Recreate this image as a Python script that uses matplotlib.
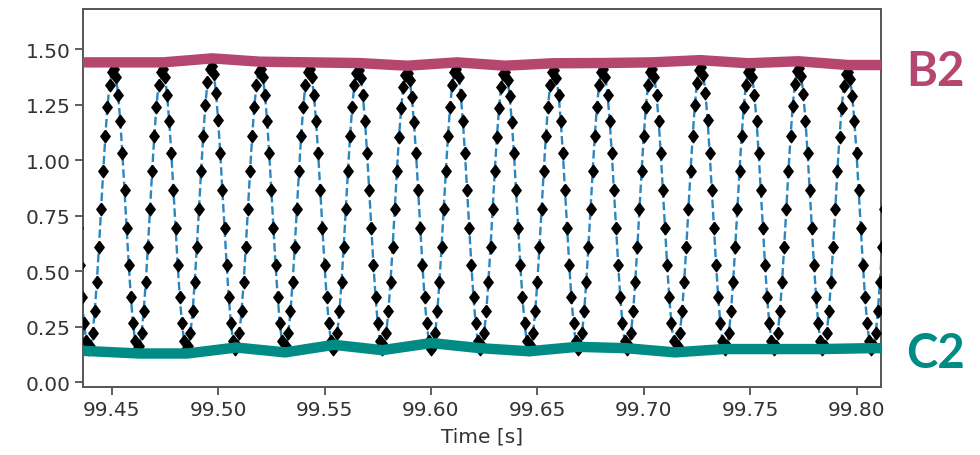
import numpy as np
import matplotlib
matplotlib.use("Agg")
import matplotlib.pyplot as plt

t0 = 99.434
fs = 1000.0
signal = [
    0.693, 0.528, 0.382, 0.265, 0.186, 0.151,
    0.163, 0.221, 0.320, 0.453, 0.611, 0.781, 0.951, 1.108, 1.241, 1.340, 1.397, 1.408, 1.373, 1.294, 1.177, 1.030, 0.865, 0.693, 0.528, 0.382, 0.265, 0.186, 0.151,
    0.163, 0.221, 0.320, 0.453, 0.611, 0.781, 0.951, 1.108, 1.241, 1.340, 1.397, 1.408, 1.373, 1.294, 1.177, 1.030, 0.865, 0.693, 0.528, 0.382, 0.265, 0.186, 0.151,
    0.163, 0.221, 0.320, 0.453, 0.611, 0.781, 0.951, 1.110, 1.248, 1.352, 1.412, 1.423, 1.388, 1.300, 1.180, 1.030, 0.865, 0.693, 0.528, 0.382, 0.265, 0.186, 0.151,
    0.163, 0.221, 0.320, 0.453, 0.611, 0.781, 0.951, 1.108, 1.241, 1.340, 1.397, 1.408, 1.373, 1.294, 1.177, 1.030, 0.865, 0.693, 0.528, 0.382, 0.265, 0.186, 0.151,
    0.163, 0.221, 0.320, 0.453, 0.611, 0.781, 0.951, 1.108, 1.241, 1.340, 1.397, 1.408, 1.373, 1.294, 1.177, 1.030, 0.865, 0.693, 0.528, 0.382, 0.265, 0.186, 0.151,
    0.163, 0.221, 0.320, 0.453, 0.611, 0.781, 0.951, 1.108, 1.240, 1.338, 1.394, 1.404, 1.370, 1.292, 1.177, 1.030, 0.865, 0.693, 0.528, 0.382, 0.265, 0.186, 0.151,
    0.163, 0.221, 0.320, 0.453, 0.611, 0.781, 0.951, 1.105, 1.233, 1.328, 1.383, 1.393, 1.360, 1.285, 1.172, 1.030, 0.865, 0.693, 0.528, 0.382, 0.265, 0.186, 0.151,
    0.163, 0.221, 0.320, 0.453, 0.611, 0.781, 0.951, 1.108, 1.241, 1.340, 1.397, 1.408, 1.373, 1.294, 1.177, 1.030, 0.865, 0.693, 0.528, 0.382, 0.265, 0.186, 0.151,
    0.163, 0.221, 0.320, 0.453, 0.611, 0.781, 0.951, 1.105, 1.235, 1.330, 1.386, 1.396, 1.362, 1.287, 1.173, 1.030, 0.865, 0.693, 0.528, 0.382, 0.265, 0.186, 0.151,
    0.163, 0.221, 0.320, 0.453, 0.611, 0.781, 0.951, 1.108, 1.241, 1.338, 1.395, 1.406, 1.371, 1.293, 1.177, 1.030, 0.865, 0.693, 0.528, 0.382, 0.265, 0.186, 0.151,
    0.163, 0.221, 0.320, 0.453, 0.611, 0.781, 0.951, 1.108, 1.241, 1.340, 1.397, 1.408, 1.373, 1.294, 1.177, 1.030, 0.865, 0.693, 0.528, 0.382, 0.265, 0.186, 0.151,
    0.163, 0.221, 0.320, 0.453, 0.611, 0.781, 0.951, 1.108, 1.241, 1.340, 1.397, 1.408, 1.373, 1.294, 1.177, 1.030, 0.865, 0.693, 0.528, 0.382, 0.265, 0.186, 0.151,
    0.163, 0.221, 0.320, 0.453, 0.611, 0.781, 0.951, 1.110, 1.246, 1.348, 1.407, 1.418, 1.383, 1.300, 1.180, 1.030, 0.865, 0.693, 0.528, 0.382, 0.265, 0.186, 0.151,
    0.163, 0.221, 0.320, 0.453, 0.611, 0.781, 0.951, 1.108, 1.241, 1.340, 1.397, 1.408, 1.373, 1.294, 1.177, 1.030, 0.865, 0.693, 0.528, 0.382, 0.265, 0.186, 0.151,
    0.163, 0.221, 0.320, 0.453, 0.611, 0.781, 0.951, 1.108, 1.243, 1.344, 1.402, 1.413, 1.378, 1.296, 1.178, 1.030, 0.865, 0.693, 0.528, 0.382, 0.265, 0.186, 0.151,
    0.163, 0.221, 0.320, 0.453, 0.611, 0.781, 0.951, 1.106, 1.236, 1.332, 1.388, 1.398, 1.364, 1.288, 1.174, 1.030, 0.865, 0.693, 0.528, 0.382, 0.265, 0.186, 0.151,
    0.163, 0.221, 0.320, 0.453, 0.611, 0.781,
]
time = t0 + np.arange(len(signal)) / fs

# upper envelope (B2), vertices at the peaks
b2_t = [99.4365, 99.4516, 99.4742, 99.4972, 99.5198, 99.5433, 99.5658, 99.5889, 99.6123,
        99.6349, 99.6574, 99.6805, 99.7040, 99.7265, 99.7491, 99.7726, 99.7961, 99.8115]
b2_v = [1.440, 1.440, 1.440, 1.458, 1.443, 1.440, 1.437, 1.425, 1.440,
        1.425, 1.436, 1.437, 1.440, 1.450, 1.436, 1.445, 1.428, 1.428]

# lower envelope (C2), vertices at the troughs
c2_t = [99.4365, 99.4629, 99.4855, 99.5085, 99.5315, 99.5545, 99.5771, 99.6001, 99.6231,
        99.6461, 99.6687, 99.6917, 99.7147, 99.7377, 99.7607, 99.7837, 99.8068, 99.8115]
c2_v = [0.142, 0.130, 0.130, 0.157, 0.135, 0.169, 0.145, 0.177, 0.154,
        0.140, 0.160, 0.154, 0.135, 0.150, 0.150, 0.150, 0.154, 0.154]

xticks = [99.45, 99.50, 99.55, 99.60, 99.65, 99.70, 99.75, 99.80]
yticks = [0.00, 0.25, 0.50, 0.75, 1.00, 1.25, 1.50]

pink = '#B4466F'
teal = '#008C84'

# diamond a bit wider than matplotlib's thin 'd'
diamond = [(0, 1), (0.75, 0), (0, -1), (-0.75, 0), (0, 1)]

fig = plt.figure(figsize=(9.8, 4.56), dpi=100)
ax = fig.add_axes([0.0847, 0.149, 0.8143, 0.829])

ax.plot(time, signal, color='#2a86c0', lw=1.7, dashes=(3.6, 1.6), zorder=2)
ax.plot(time, signal, linestyle='none', marker=diamond, color='black',
        markersize=9, zorder=3)

ax.plot(b2_t, b2_v, color=pink, lw=7.5, solid_capstyle='butt', zorder=4)
ax.plot(c2_t, c2_v, color=teal, lw=7.5, solid_capstyle='butt', zorder=4)

ax.set_xlim(99.4365, 99.8115)
ax.set_ylim(-0.021, 1.68)
ax.set_xticks(xticks)
ax.set_xticklabels(['%.2f' % v for v in xticks])
ax.set_yticks(yticks)
ax.set_yticklabels(['%.2f' % v for v in yticks])
ax.tick_params(labelsize=14.5, length=5.5, width=1.2, color='#444444', labelcolor='#333333')
for sp in ax.spines.values():
    sp.set_linewidth(1.4)
    sp.set_color('#555555')
ax.set_xlabel('Time [s]', fontsize=14.5, color='#333333', labelpad=6)

fig.text(0.925, 1 - 86 / 456, 'B2', color=pink, fontsize=34, fontweight='bold',
         family='Lato', ha='left', va='baseline')
fig.text(0.925, 1 - 368 / 456, 'C2', color=teal, fontsize=34, fontweight='bold',
         family='Lato', ha='left', va='baseline')

fig.savefig('out.png', dpi=100)
